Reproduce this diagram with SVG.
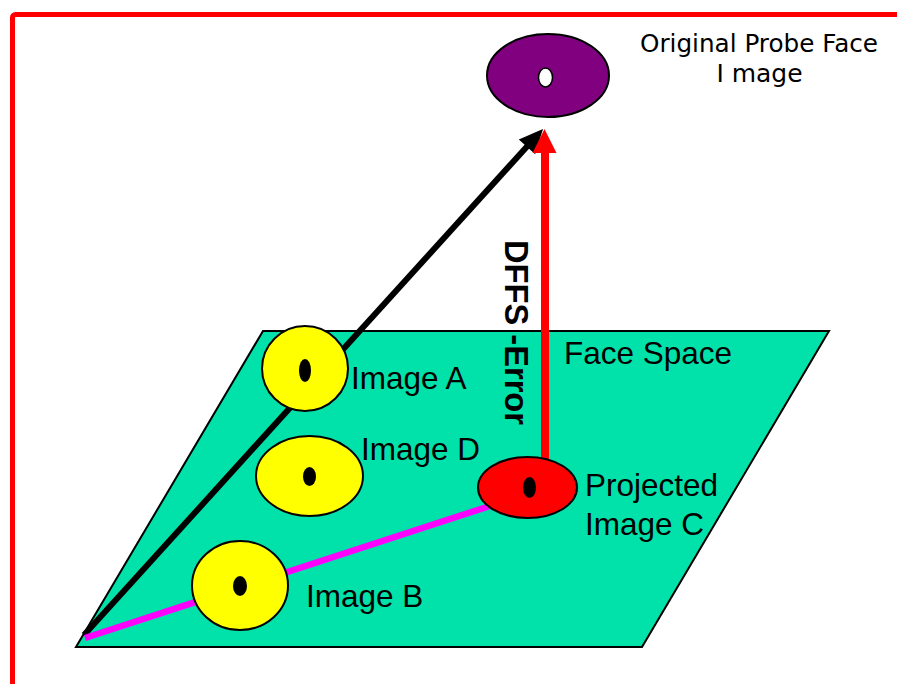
<svg xmlns="http://www.w3.org/2000/svg" width="897" height="684" viewBox="0 0 897 684">
<style>
.lbl{font-family:"Liberation Sans",Arial,sans-serif;font-size:31.5px;fill:#000}
.ttl{font-family:"DejaVu Sans","Liberation Sans",sans-serif;font-size:25px;fill:#000}
.face{fill:#FFFF00;stroke:#000;stroke-width:2}
.eye{fill:#000}
</style>
<rect x="0" y="0" width="897" height="684" fill="#fff"/>
<rect id="frame" x="12.5" y="14.5" width="1000" height="1000" rx="3" fill="none" stroke="#FF0000" stroke-width="5"/>
<g id="face-space">
<polygon points="263,331 829,331 642,647 76,647" fill="#00E2AA" stroke="#000" stroke-width="2"/>
<text class="lbl" x="564" y="364">Face Space</text>
</g>
<g id="connectors">
<line x1="84" y1="635" x2="532" y2="141" stroke="#000" stroke-width="6"/>
<polygon points="543,129 518.8,139.4 535.2,154.2" fill="#000"/>
<line x1="85" y1="638" x2="490" y2="506" stroke="#FF00FF" stroke-width="6.5"/>
<line x1="545" y1="470" x2="545" y2="150" stroke="#FF0000" stroke-width="8"/>
<polygon points="544.5,129 532.5,153 556.5,153" fill="#FF0000"/>
<text transform="translate(505,240) rotate(90)" font-family="'Liberation Sans',Arial,sans-serif" font-weight="bold" font-size="33" textLength="185" lengthAdjust="spacingAndGlyphs">DFFS -Error</text>
</g>
<g id="probe">
<ellipse cx="548" cy="75.5" rx="61" ry="41.5" fill="#800080" stroke="#000" stroke-width="2"/>
<ellipse cx="545.5" cy="77.5" rx="7" ry="9.5" fill="#fff" stroke="#000" stroke-width="1.5"/>
<text class="ttl" x="759" y="52" text-anchor="middle" textLength="238" lengthAdjust="spacingAndGlyphs">Original Probe Face</text>
<text class="ttl" x="759.5" y="82" text-anchor="middle">I mage</text>
</g>
<g id="image-a">
<ellipse class="face" cx="305" cy="368.5" rx="43" ry="42.5"/>
<ellipse class="eye" cx="305" cy="370.5" rx="6" ry="11.5"/>
<text class="lbl" x="351" y="389">Image A</text>
</g>
<g id="image-d">
<ellipse class="face" cx="309.5" cy="476" rx="53.5" ry="40"/>
<ellipse class="eye" cx="309.5" cy="476.5" rx="6.5" ry="9.5"/>
<text class="lbl" x="361" y="460">Image D</text>
</g>
<g id="image-b">
<ellipse class="face" cx="240" cy="585.5" rx="48" ry="44.5"/>
<ellipse class="eye" cx="240" cy="586" rx="7" ry="10"/>
<text class="lbl" x="306" y="607">Image B</text>
</g>
<g id="image-c">
<ellipse cx="527.5" cy="487.5" rx="49.5" ry="30.5" fill="#FF0000" stroke="#000" stroke-width="2"/>
<ellipse class="eye" cx="529.5" cy="487.5" rx="6.5" ry="10.5"/>
<text class="lbl" x="585" y="496">Projected</text>
<text class="lbl" x="585" y="535">Image C</text>
</g>
</svg>
